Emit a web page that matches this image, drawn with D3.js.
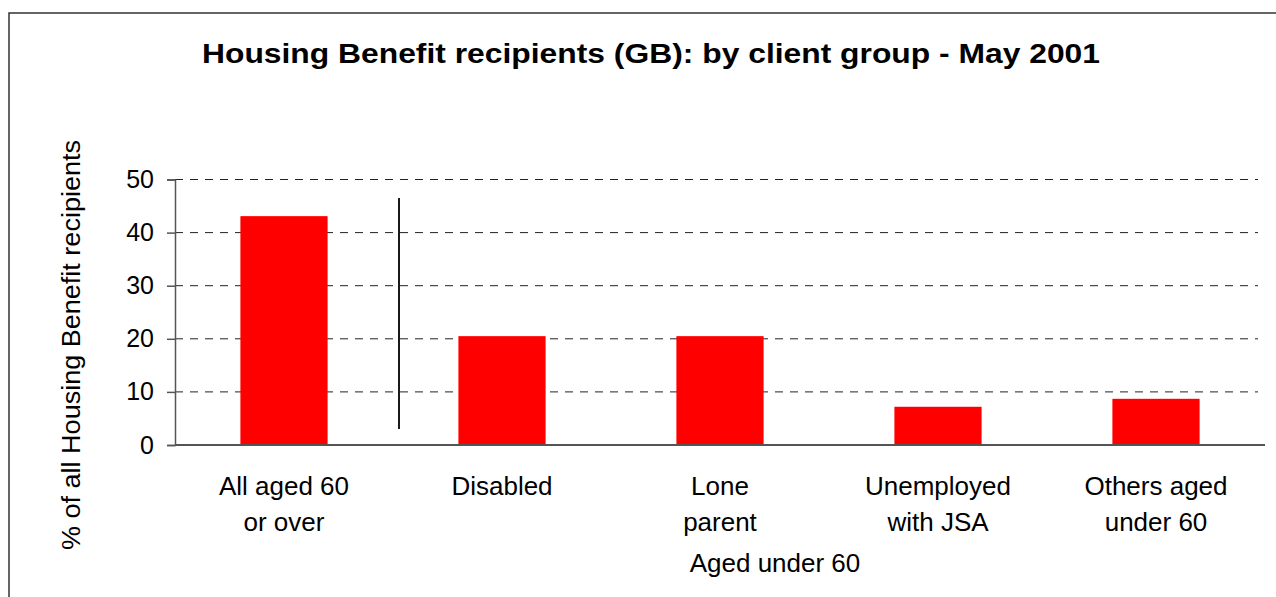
<!DOCTYPE html>
<html><head><meta charset="utf-8">
<script src="https://cdn.jsdelivr.net/npm/d3@7"></script>
<style>body{margin:0;background:#fff}svg{display:block}text{font-family:"Liberation Sans",Arial,sans-serif}</style>
</head><body><svg id="c" width="1276" height="597"></svg>
<script>
const categories = ["All aged 60 or over","Disabled","Lone parent","Unemployed with JSA","Others aged under 60"];
const labelLines = [["All aged 60","or over"],["Disabled"],["Lone","parent"],["Unemployed","with JSA"],["Others aged","under 60"]];
const values = [43.1, 20.5, 20.5, 7.2, 8.7];
const yTicks = [0,10,20,30,40,50];
const titleText = "Housing Benefit recipients (GB): by client group - May 2001";
const yLabel = "% of all Housing Benefit recipients";
const groupLabel = "Aged under 60";
const separator = [3, 46.5];

const svg = d3.select("#c");
const L = 175, R = 1265, T = 179.5, B = 445;
const x = d3.scaleBand().domain(categories).range([L, R]).paddingInner(0.6).paddingOuter(0.3);
const y = d3.scaleLinear().domain([0, 50]).range([B, T]);

// frame
svg.append("rect").attr("x",9).attr("y",13).attr("width",1300).attr("height",700)
  .attr("fill","none").attr("stroke","#333").attr("stroke-width",1.5);

// title
svg.append("text").attr("x",651).attr("y",63).attr("text-anchor","middle")
  .attr("font-size",28).attr("font-weight","bold")
  .attr("textLength",898).attr("lengthAdjust","spacingAndGlyphs").text(titleText);

// grid
svg.append("g").selectAll("line").data(yTicks.filter(d=>d>0)).join("line")
  .attr("x1",L).attr("x2",1258).attr("y1",d=>y(d)).attr("y2",d=>y(d))
  .attr("stroke","#222").attr("stroke-width",1).attr("stroke-dasharray","8,7");

// bars
svg.append("g").selectAll("rect").data(values).join("rect")
  .attr("x",(d,i)=>x(categories[i])).attr("width",x.bandwidth())
  .attr("y",d=>y(d)).attr("height",d=>B-y(d)).attr("fill","#ff0000");

// y axis
const ya = svg.append("g").attr("transform",`translate(${L},0)`)
  .call(d3.axisLeft(y).tickValues(yTicks).tickSize(8).tickPadding(13));
ya.select(".domain").attr("stroke","#555").attr("stroke-width",1.5);
ya.selectAll(".tick line").attr("stroke","#555").attr("stroke-width",1.5);
ya.selectAll(".tick text").attr("font-size",25).attr("fill","#000").attr("font-family","Liberation Sans, Arial, sans-serif");

// x axis line
svg.append("line").attr("x1",L).attr("x2",R).attr("y1",B).attr("y2",B)
  .attr("stroke","#555").attr("stroke-width",1.8);

// separator
const sepX = x(categories[1]) - x.step()*x.paddingInner()/2 + 6;
svg.append("line").attr("x1",sepX).attr("x2",sepX).attr("y1",y(separator[0])).attr("y2",y(separator[1]))
  .attr("stroke","#000").attr("stroke-width",1.8);

// category labels
const cl = svg.append("g");
labelLines.forEach((lines,i)=>{
  const cx = x(categories[i]) + x.bandwidth()/2;
  lines.forEach((ln,j)=>{
    cl.append("text").attr("x",cx).attr("y",495 + j*36).attr("text-anchor","middle")
      .attr("font-size",26).text(ln);
  });
});

// group label
svg.append("text").attr("x",775).attr("y",572).attr("text-anchor","middle").attr("font-size",26).text(groupLabel);

// y label
svg.append("text").attr("transform","translate(80,345) rotate(-90)").attr("text-anchor","middle")
  .attr("font-size",26).attr("textLength",410).attr("lengthAdjust","spacingAndGlyphs").text(yLabel);
</script></body></html>
